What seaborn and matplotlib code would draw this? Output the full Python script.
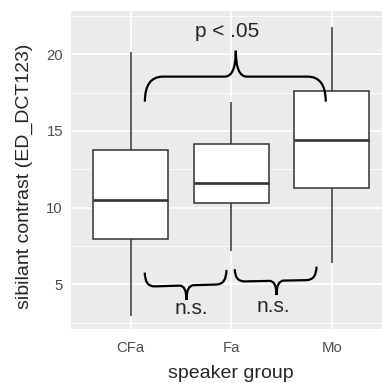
import numpy as np
import pandas as pd
import matplotlib
matplotlib.use("Agg")
import matplotlib.pyplot as plt
from matplotlib.path import Path
from matplotlib.patches import PathPatch
import seaborn as sns

# five-number summaries (min, Q1, median, Q3, max)
groups = ["CFa", "Fa", "Mo"]
cfa_vals = [2.9, 7.93, 10.48, 13.76, 20.13]
fa_vals = [7.19, 10.33, 11.57, 14.13, 16.91]
mo_vals = [6.41, 11.30, 14.39, 17.63, 21.80]

y_ticks = [5, 10, 15, 20]
sig_label = "p < .05"
ns_label = "n.s."

df = pd.DataFrame({
    "group": np.repeat(groups, 5),
    "value": cfa_vals + fa_vals + mo_vals,
})

sns.set_style("white")
plt.rcParams["font.family"] = ["Liberation Sans", "DejaVu Sans"]

fig = plt.figure(figsize=(3.82, 3.83), dpi=100)
ax = fig.add_axes([0.1846, 0.1402, 0.8154, 0.8311])
ax.set_facecolor("#EBEBEB")

sns.boxplot(data=df, x="group", y="value", order=groups, ax=ax,
            color="white", linecolor="#333333", linewidth=1.1, width=0.75,
            showcaps=False, saturation=1,
            medianprops={"linewidth": 1.9, "color": "#333333"},
            zorder=3)

ax.set_xlim(-0.6, 2.5)
ax.set_ylim(2.06, 22.82)
ax.set_yticks(y_ticks)
ax.set_yticks([2.5, 7.5, 12.5, 17.5, 22.5], minor=True)
ax.grid(True, which="major", color="white", linewidth=1.2, zorder=0)
ax.grid(True, which="minor", axis="y", color="white", linewidth=0.6, zorder=0)
ax.set_axisbelow(True)
for s in ax.spines.values():
    s.set_visible(False)

ax.tick_params(axis="both", which="major", length=3.5, width=1, color="#333333",
               labelcolor="#4D4D4D", labelsize=10.7)
ax.tick_params(axis="x", pad=5)
ax.tick_params(axis="y", pad=2)
ax.tick_params(which="minor", length=0)

ax.set_xlabel("speaker group", fontsize=14)
ax.set_ylabel("sibilant contrast (ED_DCT123)", fontsize=14)
ax.xaxis.set_label_coords(0.515, -0.112)
ax.yaxis.set_label_coords(-0.12, 0.48)


def brace(x0, x1, xt, y0, y1, yl0, yl1, ytip, dxe, dxt):
    def yl(x):
        return yl0 + (yl1 - yl0) * (x - x0) / (x1 - x0)
    verts = [(x0, y0), (x0, yl(x0)), (x0 + dxe, yl(x0 + dxe)),
             (xt - dxt, yl(xt - dxt)), (xt, yl(xt)), (xt, ytip),
             (xt, yl(xt)), (xt + dxt, yl(xt + dxt)),
             (x1 - dxe, yl(x1 - dxe)), (x1, yl(x1)), (x1, y1)]
    codes = [Path.MOVETO, Path.CURVE3, Path.CURVE3, Path.LINETO,
             Path.CURVE3, Path.CURVE3, Path.CURVE3, Path.CURVE3,
             Path.LINETO, Path.CURVE3, Path.CURVE3]
    ax.add_patch(PathPatch(Path(verts, codes), fill=False, edgecolor="black",
                           linewidth=1.6, zorder=5, capstyle="butt"))


# CFa vs Mo
brace(0.14, 1.94, 1.045, 16.91, 16.91, 18.54, 18.54, 20.23, 0.18, 0.11)
ax.text(0.963, 21.15, sig_label, ha="center", va="baseline", fontsize=15, zorder=6)
# CFa vs Fa
brace(0.139, 0.952, 0.554, 5.76, 5.93, 4.84, 5.0, 3.98, 0.1, 0.07)
ax.text(0.604, 3.06, ns_label, ha="center", va="baseline", fontsize=15, zorder=6)
# Fa vs Mo
brace(1.035, 1.848, 1.45, 5.98, 6.15, 5.17, 5.28, 4.30, 0.1, 0.07)
ax.text(1.416, 3.17, ns_label, ha="center", va="baseline", fontsize=15, zorder=6)

plt.savefig("out.png", dpi=100)
